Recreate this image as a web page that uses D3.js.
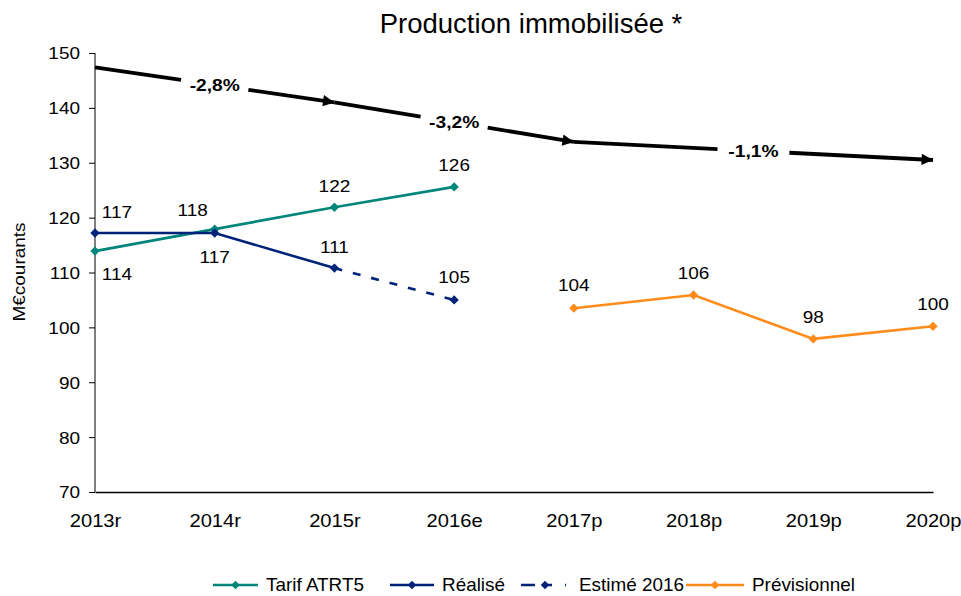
<!DOCTYPE html>
<html lang="fr">
<head>
<meta charset="UTF-8">
<title>Production immobilisée</title>
<script src="https://d3js.org/d3.v7.min.js"></script>
<style>
  body { margin: 0; background: #fff; }
  text { font-family: "Liberation Sans", Arial, sans-serif; fill: #000; }
</style>
</head>
<body>
<div id="chart"></div>
<script>
// Data
var years = ["2013r", "2014r", "2015r", "2016e", "2017p", "2018p", "2019p", "2020p"];
var tarif = [113.9, 117.9, 121.9, 125.6];
var realise = [117.2, 117.2, 110.8];
var estime = [110.8, 105.0];
var previsionnel = [103.5, 105.9, 97.9, 100.2];
var tarifLabels = ["114", "118", "122", "126"];
var realiseLabels = ["117", "117", "111"];
var estimeLabels = ["105"];
var previsionnelLabels = ["104", "106", "98", "100"];
var trendYears = ["2013r", "2015r", "2017p", "2020p"];
var trendValues = [147.4, 141.0, 133.8, 130.5];
var trendLabels = ["-2,8%", "-3,2%", "-1,1%"];
var yTicks = [70, 80, 90, 100, 110, 120, 130, 140, 150];

var W = 961, H = 596;
var svg = d3.select("#chart").append("svg").attr("width", W).attr("height", H);

var x = d3.scalePoint().domain(years).range([95, 933]);
var y = d3.scaleLinear().domain([70, 150]).range([492, 53]);

// the reference text is drawn a little wider than normal
function stretch(sel, k) {
  sel.attr("transform", function () {
    var tx = +d3.select(this).attr("x") || 0;
    return "translate(" + tx + ",0) scale(" + k + ",1) translate(" + (-tx) + ",0)";
  });
}

// Title
svg.append("text").attr("x", 531).attr("y", 33).attr("text-anchor", "middle")
  .style("font-size", "27.5px").text("Production immobilisée *");

// Y axis
var yAxis = svg.append("g").attr("transform", "translate(95,0)")
  .call(d3.axisLeft(y).tickValues(yTicks).tickSize(6).tickPadding(9));
yAxis.select(".domain").attr("stroke", "#000").attr("d", "M0," + y(150) + "V" + y(70));
yAxis.selectAll(".tick line").attr("stroke", "#000");
yAxis.selectAll("text").style("font-size", "16.5px").attr("dy", "0.36em").call(stretch, 1.15);

// X axis
var xAxis = svg.append("g").attr("transform", "translate(0," + y(70) + ")")
  .call(d3.axisBottom(x).tickSize(0).tickPadding(22));
xAxis.select(".domain").attr("stroke", "#000").attr("stroke-width", 1.3);
xAxis.selectAll("text").style("font-size", "18px").attr("dy", "0.71em").call(stretch, 1.12);

svg.append("text").attr("x", 0).attr("y", 0)
  .attr("transform", "translate(25,272) rotate(-90) scale(1.15,1)")
  .attr("text-anchor", "middle").style("font-size", "16.5px").text("M€courants");

var teal = "#00857a", navy = "#00237a", orange = "#ff8c1a";

var line = d3.line().x(function (d) { return x(d[0]); }).y(function (d) { return y(d[1]); });

function series(yrs, vals, color, dash) {
  var pts = yrs.map(function (yr, i) { return [yr, vals[i]]; });
  svg.append("path").attr("d", line(pts)).attr("fill", "none")
    .attr("stroke", color).attr("stroke-width", 2.6)
    .attr("stroke-dasharray", dash || null);
  return pts;
}
function markers(pts, color) {
  svg.selectAll(null).data(pts).enter().append("path")
    .attr("d", d3.symbol().type(d3.symbolDiamond2).size(56))
    .attr("transform", function (d) { return "translate(" + x(d[0]) + "," + y(d[1]) + ")"; })
    .attr("fill", color);
}
function labels(pts, texts, offsets) {
  svg.selectAll(null).data(pts).enter().append("text")
    .attr("x", function (d, i) { return x(d[0]) + offsets[i][0]; })
    .attr("y", function (d, i) { return y(d[1]) + offsets[i][1]; })
    .attr("text-anchor", "middle").style("font-size", "16.5px")
    .text(function (d, i) { return texts[i]; })
    .call(stretch, 1.15);
}

var pTarif = series(years.slice(0, 4), tarif, teal);
var pReal = series(years.slice(0, 3), realise, navy);
var pEst = series(years.slice(2, 4), estime, navy, "8,11");
var pPrev = series(years.slice(4, 8), previsionnel, orange);
markers(pTarif, teal);
markers(pReal, navy);
markers(pEst.slice(1), navy);
markers(pPrev, orange);

labels(pTarif, tarifLabels, [[22, 29], [-22, -13], [0, -15], [0, -16]]);
labels(pReal, realiseLabels, [[22, -15], [0, 30], [0, -15]]);
labels(pEst.slice(1), estimeLabels, [[0, -17]]);
labels(pPrev, previsionnelLabels, [[0, -17], [0, -16], [0, -16], [0, -16]]);

// Trend arrows
svg.append("defs").append("marker").attr("id", "arrow")
  .attr("viewBox", "0 0 10 10").attr("refX", 10).attr("refY", 5)
  .attr("markerWidth", 3.6).attr("markerHeight", 3.0).attr("orient", "auto")
  .append("path").attr("d", "M0,0L10,5L0,10Z").attr("fill", "#000");

var gapHalf = [34, 34, 36];
for (var i = 0; i < 3; i++) {
  var x0 = x(trendYears[i]), y0 = y(trendValues[i]);
  var x1 = x(trendYears[i + 1]), y1 = y(trendValues[i + 1]);
  var mx = (x0 + x1) / 2, my = (y0 + y1) / 2;
  var len = Math.hypot(x1 - x0, y1 - y0), ux = (x1 - x0) / len, uy = (y1 - y0) / len;
  var g = gapHalf[i];
  svg.append("line").attr("x1", x0).attr("y1", y0)
    .attr("x2", mx - ux * g).attr("y2", my - uy * g)
    .attr("stroke", "#000").attr("stroke-width", 3.8);
  svg.append("line").attr("x1", mx + ux * g).attr("y1", my + uy * g)
    .attr("x2", x1).attr("y2", y1)
    .attr("stroke", "#000").attr("stroke-width", 3.8).attr("marker-end", "url(#arrow)");
  svg.append("text").attr("x", mx).attr("y", my + 6).attr("text-anchor", "middle")
    .style("font-size", "16px").style("font-weight", "bold").text(trendLabels[i])
    .call(stretch, 1.2);
}

// Legend
var legend = [
  { name: "Tarif ATRT5", color: teal, x: 213, w: 45 },
  { name: "Réalisé", color: navy, x: 390, w: 44 },
  { name: "Estimé 2016", color: navy, x: 521, w: 50, dash: "14,10,7,13,1,5" },
  { name: "Prévisionnel", color: orange, x: 686, w: 58 }
];
var lg = svg.selectAll(".lg").data(legend).enter().append("g").attr("class", "lg")
  .attr("transform", function (d) { return "translate(" + d.x + ",585)"; });
lg.append("line").attr("x1", 0).attr("x2", function (d) { return d.w; })
  .attr("stroke", function (d) { return d.color; }).attr("stroke-width", 2.6)
  .attr("stroke-dasharray", function (d) { return d.dash || null; });
lg.append("path").attr("d", d3.symbol().type(d3.symbolDiamond2).size(46))
  .attr("transform", function (d) { return "translate(" + (d.dash ? 24 : d.w / 2) + ",0)"; })
  .attr("fill", function (d) { return d.color; });
lg.append("text").attr("x", function (d) { return d.w + 8; }).attr("y", 6)
  .style("font-size", "17.5px").text(function (d) { return d.name; })
  .call(stretch, 1.08);
</script>
</body>
</html>
